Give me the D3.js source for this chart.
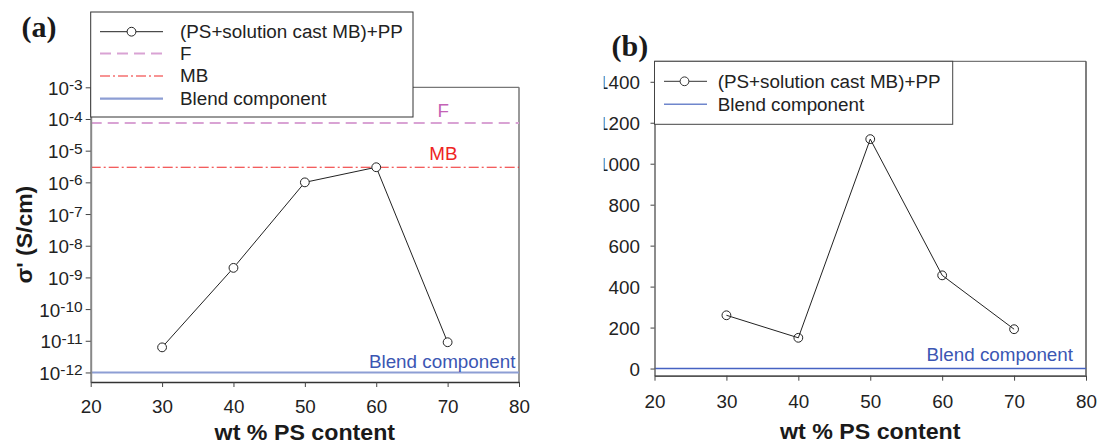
<!DOCTYPE html>
<html><head><meta charset="utf-8">
<script src="https://cdn.jsdelivr.net/npm/d3@7"></script>
<style>body{margin:0;background:#fff}svg{display:block}</style>
</head><body><svg id="c" width="1097" height="444"></svg>
<script>
// ---- data ----
const wtPS = [30, 40, 50, 60, 70];
const sigmaDC = [6.2e-12, 2e-9, 1e-6, 3e-6, 9e-12];     // panel (a)
const sigmaF = 7.5e-5;                                   // F reference
const sigmaMB = 3e-6;                                    // MB reference
const sigmaBlend = 1e-12;                                // blend component
const permittivity = [260, 150, 1120, 455, 192];         // panel (b)
const permBlend = 0;
const xTicks = [20, 30, 40, 50, 60, 70, 80];
const yExpA = [-3, -4, -5, -6, -7, -8, -9, -10, -11, -12];
const yTicksB = [0, 200, 400, 600, 800, 1000, 1200, 1400];
const seriesName = "(PS+solution cast MB)+PP";
const legendA = [seriesName, "F", "MB", "Blend component"];
const legendB = [seriesName, "Blend component"];

const SX = 1.07, FS = 17.6, FONT = "'Liberation Sans', Arial, Helvetica, sans-serif";
const svg = d3.select("#c");

function txt(g, x, y, s, o = {}) {
  return g.append("text")
    .attr("transform", `translate(${x},${y}) scale(${o.sx || SX},1)`)
    .attr("font-family", o.family || FONT)
    .attr("font-size", o.fs || FS)
    .attr("font-weight", o.bold ? "bold" : "normal")
    .attr("fill", o.fill || "#222")
    .attr("text-anchor", o.anchor || "start")
    .text(s);
}

// ---- scales ----
const xa = d3.scaleLinear([20, 80], [90.7, 519]);
const ya = d3.scaleLog([5e-13, 1e-3], [382, 87.3]);
const xb = d3.scaleLinear([20, 80], [654.5, 1086]);
const yb = d3.scaleLinear([-35, 1500], [375.7, 61.3]);

const lineGen = (xs, ys) => d3.line().x((d, i) => xs(wtPS[i])).y(d => ys(d));

// ================= PANEL (a) =================
const ga = svg.append("g");

ga.append("line").attr("x1", xa(20)).attr("x2", xa(80)).attr("y1", ya(1e-3)).attr("y2", ya(1e-3))
  .attr("stroke", "#555").attr("stroke-width", 1);
ga.append("line").attr("x1", xa(80)).attr("x2", xa(80)).attr("y1", ya(1e-3)).attr("y2", ya.range()[0])
  .attr("stroke", "#777").attr("stroke-width", 1.5);

ga.append("line").attr("x1", xa(20)).attr("x2", xa(80)).attr("y1", ya(sigmaF)).attr("y2", ya(sigmaF))
  .attr("stroke", "#d9a3d4").attr("stroke-width", 2).attr("stroke-dasharray", "11,6");
ga.append("line").attr("x1", xa(20)).attr("x2", xa(80)).attr("y1", ya(sigmaMB)).attr("y2", ya(sigmaMB))
  .attr("stroke", "#f02828").attr("stroke-width", 1.1).attr("stroke-dasharray", "10,3,2,3");
ga.append("line").attr("x1", xa(20)).attr("x2", xa(80)).attr("y1", ya(sigmaBlend)).attr("y2", ya(sigmaBlend))
  .attr("stroke", "#8d9ed4").attr("stroke-width", 2);

txt(ga, xa(69.4), ya(sigmaF) - 6, "F", {anchor: "middle", fill: "#c462b6"});
txt(ga, xa(69.4), ya(sigmaMB) - 7, "MB", {anchor: "middle", fill: "#ee2424"});
txt(ga, xa(79.5), ya(sigmaBlend) - 4, "Blend component", {anchor: "end", fill: "#3b56b3"});

const axAy = ga.append("g").attr("transform", `translate(${xa(20)},0)`)
  .call(d3.axisLeft(ya).tickValues(yExpA.map(e => Math.pow(10, e))).tickSize(5).tickSizeOuter(0).tickFormat(() => ""));
axAy.select(".domain").attr("stroke", "#888").attr("stroke-width", 2);
axAy.selectAll(".tick line").attr("stroke", "#444");
axAy.selectAll(".tick").each(function (d) {
  const e = Math.round(Math.log10(d));
  const t = d3.select(this).append("text")
    .attr("transform", `translate(-8,7) scale(${SX},1)`)
    .attr("font-family", FONT).attr("font-size", FS).attr("fill", "#222")
    .attr("text-anchor", "end");
  t.append("tspan").text("10");
  t.append("tspan").attr("font-size", 14.5).attr("dy", -4.5).text(String(e));
});
const axAx = ga.append("g").attr("transform", `translate(0,${ya.range()[0]})`)
  .call(d3.axisBottom(xa).tickValues(xTicks).tickSize(5).tickSizeOuter(0).tickFormat(d3.format("d")));
axAx.select(".domain").attr("stroke", "#333").attr("stroke-width", 1.5);
axAx.selectAll(".tick line").attr("stroke", "#444");
axAx.selectAll(".tick text").attr("y", null).attr("dy", null)
  .attr("transform", `translate(0,31.3) scale(${SX},1)`)
  .attr("font-family", FONT).attr("font-size", FS).attr("fill", "#222");

ga.append("path").datum(sigmaDC).attr("d", lineGen(xa, ya))
  .attr("fill", "none").attr("stroke", "#222").attr("stroke-width", 1);
ga.selectAll("circle.pt").data(sigmaDC).join("circle").attr("class", "pt")
  .attr("cx", (d, i) => xa(wtPS[i])).attr("cy", d => ya(d)).attr("r", 4.4)
  .attr("fill", "#fff").attr("stroke", "#222").attr("stroke-width", 1);

txt(ga, (xa(20) + xa(80)) / 2, 439.5, "wt % PS content", {anchor: "middle", bold: true, fs: 21.5, sx: 1.08, fill: "#1a1a1a"});
txt(ga, 0, 0, "σ' (S/cm)", {anchor: "middle", bold: true, fs: 21.5, fill: "#1a1a1a"})
  .attr("transform", `translate(32,${(ya.range()[0] + ya.range()[1]) / 2}) rotate(-90) scale(1.07,1)`);
txt(ga, 21.5, 37, "(a)", {sx: 1, fs: 30, bold: true, family: "'Liberation Serif', 'Times New Roman', serif", fill: "#1a1a1a"});

const la = ga.append("g");
la.append("rect").attr("x", xa(20)).attr("y", 12).attr("width", 413 - xa(20)).attr("height", 105)
  .attr("fill", "#fff").attr("stroke", "#333").attr("stroke-width", 1);
const rowsA = [31.7, 53.5, 76, 98.7];
const styleA = [
  {stroke: "#222", w: 1, dash: null},
  {stroke: "#d9a3d4", w: 2, dash: "11,6"},
  {stroke: "#f02828", w: 1.1, dash: "10,3,2,3"},
  {stroke: "#8d9ed4", w: 2.2, dash: null}
];
legendA.forEach((name, i) => {
  la.append("line").attr("x1", 100).attr("x2", 163).attr("y1", rowsA[i]).attr("y2", rowsA[i])
    .attr("stroke", styleA[i].stroke).attr("stroke-width", styleA[i].w).attr("stroke-dasharray", styleA[i].dash);
  if (i === 0) la.append("circle").attr("cx", 131.5).attr("cy", rowsA[i]).attr("r", 4.4)
    .attr("fill", "#fff").attr("stroke", "#222");
  txt(la, 180, rowsA[i] + 6.3, name);
});

// ================= PANEL (b) =================
svg.append("defs").append("clipPath").attr("id", "clipB")
  .append("rect").attr("x", 603.8).attr("y", 0).attr("width", 500).attr("height", 444);
const gb = svg.append("g").attr("clip-path", "url(#clipB)");

gb.append("line").attr("x1", xb(20)).attr("x2", xb(80)).attr("y1", yb.range()[1]).attr("y2", yb.range()[1])
  .attr("stroke", "#555").attr("stroke-width", 1);
gb.append("line").attr("x1", xb(80)).attr("x2", xb(80)).attr("y1", yb.range()[1]).attr("y2", yb.range()[0])
  .attr("stroke", "#555").attr("stroke-width", 1.5);

gb.append("line").attr("x1", xb(20)).attr("x2", xb(80)).attr("y1", yb(permBlend)).attr("y2", yb(permBlend))
  .attr("stroke", "#4562c2").attr("stroke-width", 1.5);
txt(gb, xb(78.2), yb(permBlend) - 7.5, "Blend component", {anchor: "end", fill: "#3b56b3"});

const axBy = gb.append("g").attr("transform", `translate(${xb(20)},0)`)
  .call(d3.axisLeft(yb).tickValues(yTicksB).tickSize(4).tickSizeOuter(0).tickFormat(d3.format("d")));
axBy.select(".domain").attr("stroke", "#666").attr("stroke-width", 1.5);
axBy.selectAll(".tick line").attr("stroke", "#444");
axBy.selectAll(".tick text").attr("x", null).attr("dy", null)
  .attr("transform", `translate(-14.5,6.8) scale(${SX},1)`)
  .attr("font-family", FONT).attr("font-size", FS).attr("fill", "#222");
const axBx = gb.append("g").attr("transform", `translate(0,${yb.range()[0]})`)
  .call(d3.axisBottom(xb).tickValues(xTicks).tickSize(5).tickSizeOuter(0).tickFormat(d3.format("d")));
axBx.select(".domain").attr("stroke", "#555").attr("stroke-width", 1.8);
axBx.selectAll(".tick line").attr("stroke", "#444");
axBx.selectAll(".tick text").attr("y", null).attr("dy", null)
  .attr("transform", `translate(0,32) scale(${SX},1)`)
  .attr("font-family", FONT).attr("font-size", FS).attr("fill", "#222");

gb.append("path").datum(permittivity).attr("d", lineGen(xb, yb))
  .attr("fill", "none").attr("stroke", "#222").attr("stroke-width", 1);
gb.selectAll("circle.pt").data(permittivity).join("circle").attr("class", "pt")
  .attr("cx", (d, i) => xb(wtPS[i])).attr("cy", d => yb(d)).attr("r", 4.4)
  .attr("fill", "none").attr("stroke", "#222").attr("stroke-width", 1);

txt(gb, (xb(20) + xb(80)) / 2, 439, "wt % PS content", {anchor: "middle", bold: true, fs: 21.5, sx: 1.08, fill: "#1a1a1a"});
txt(gb, 611.5, 55.5, "(b)", {sx: 1, fs: 30, bold: true, family: "'Liberation Serif', 'Times New Roman', serif", fill: "#1a1a1a"});

const lb = gb.append("g");
lb.append("rect").attr("x", xb(20)).attr("y", yb.range()[1]).attr("width", 952.7 - xb(20)).attr("height", 124.3 - yb.range()[1])
  .attr("fill", "#fff").attr("stroke", "#444").attr("stroke-width", 1);
const rowsB = [81.3, 104.3];
const styleB = [{stroke: "#333", w: 1}, {stroke: "#6f86cc", w: 1.5}];
legendB.forEach((name, i) => {
  lb.append("line").attr("x1", 664).attr("x2", 707).attr("y1", rowsB[i]).attr("y2", rowsB[i])
    .attr("stroke", styleB[i].stroke).attr("stroke-width", styleB[i].w);
  if (i === 0) lb.append("circle").attr("cx", 684.5).attr("cy", rowsB[i]).attr("r", 4.4)
    .attr("fill", "#fff").attr("stroke", "#333");
  txt(lb, 717.7, rowsB[i] + 6.3, name);
});
</script></body></html>
